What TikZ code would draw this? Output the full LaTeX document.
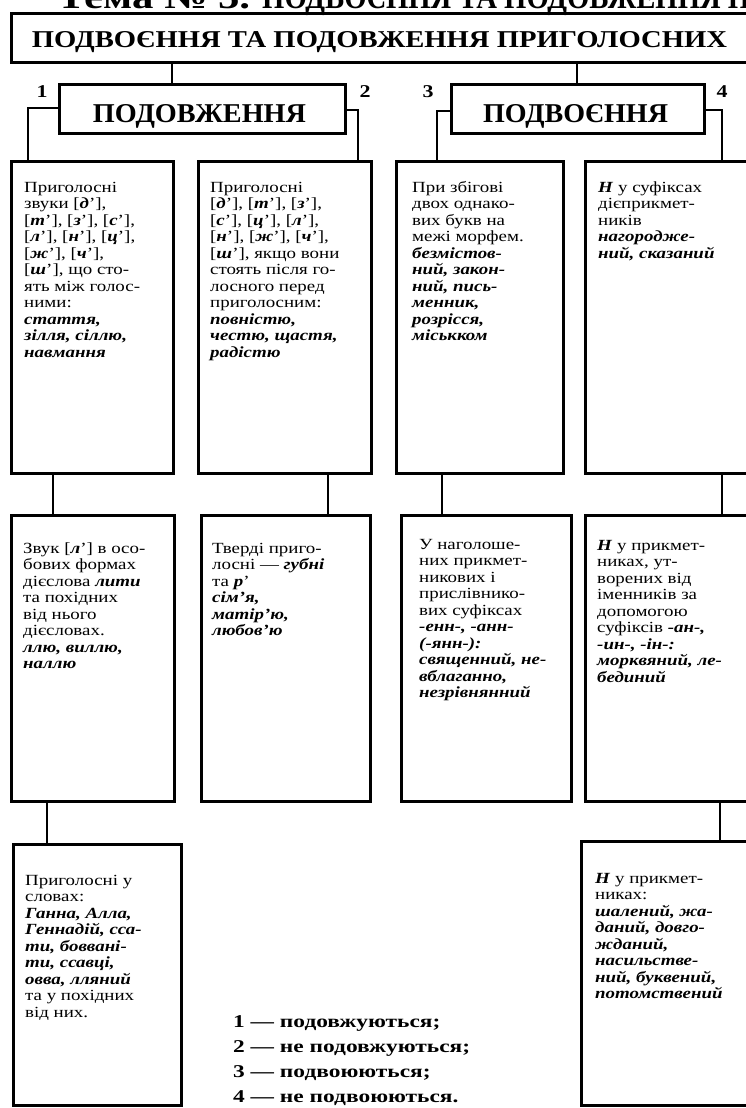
\documentclass[tikz,border=0pt]{standalone}
\usepackage{fontspec}
\usepackage{graphicx}
\setmainfont{Liberation Serif}[FakeStretch=1.22]
\newfontfamily\legendfont{Liberation Serif}[FakeStretch=1.3]
\usetikzlibrary{calc}

\tikzset{
  frame/.style={draw, line width=2.8pt, inner sep=0pt, anchor=north west},
  link/.style={draw, line width=2.8pt},
  body/.style={anchor=base west, inner sep=0pt},
  digit/.style={inner sep=0pt, font=\bfseries\fontsize{18}{18}\selectfont},
  heading/.style={anchor=base, inner sep=0pt},
}
\newcommand\ex[1]{\textbf{\textit{#1}}}
\newcommand\cell[1]{\parbox[t]{200pt}{\fontsize{15.5}{16.5}\selectfont #1}}
% sound in brackets, e.g. [д']
\newcommand\snd[1]{{[}\ex{#1}']}

\begin{document}
\begin{tikzpicture}[x=1pt,y=-1pt]
\useasboundingbox (0,0) rectangle (745,1108);
\fill[white] (0,0) rectangle (745,1108);

% running title, cut by the page edge
\node[anchor=base west, inner sep=0pt] (runhead) at (57,9)
  {\bfseries\resizebox{193pt}{22pt}{Тема № 5.}\hspace{12pt}%
   \resizebox{488pt}{22pt}{ПОДВОЄННЯ ТА ПОДОВЖЕННЯ П}};

% main heading
\node[frame, minimum width=760pt, minimum height=49pt] (main) at (10,12) {};
\node[heading] (maintext) at (379.5,48)
  {\resizebox{695pt}{16pt}{\bfseries ПОДВОЄННЯ ТА ПОДОВЖЕННЯ ПРИГОЛОСНИХ}};

% second-level headings
\node[frame, minimum width=286pt, minimum height=49pt] (s1) at (58,83) {};
\node[heading] (s1text) at (199.5,122)
  {\resizebox{213pt}{18pt}{\bfseries ПОДОВЖЕННЯ}};
\node[frame, minimum width=253pt, minimum height=49pt] (s2) at (450,83) {};
\node[heading] (s2text) at (575.5,122)
  {\resizebox{185pt}{18pt}{\bfseries ПОДВОЄННЯ}};

% first row of boxes
\node[frame, minimum width=162pt, minimum height=312pt] (r1a) at (10,160) {};
\node[frame, minimum width=173pt, minimum height=312pt] (r1b) at (197,160) {};
\node[frame, minimum width=167pt, minimum height=312pt] (r1c) at (395,160) {};
\node[frame, minimum width=180pt, minimum height=312pt] (r1d) at (584,160) {};

% second row
\node[frame, minimum width=163pt, minimum height=286pt] (r2a) at (10,514) {};
\node[frame, minimum width=169pt, minimum height=286pt] (r2b) at (200,514) {};
\node[frame, minimum width=170pt, minimum height=286pt] (r2c) at (400,514) {};
\node[frame, minimum width=180pt, minimum height=286pt] (r2d) at (584,514) {};

% third row
\node[frame, minimum width=168pt, minimum height=261pt] (r3a) at (12,843) {};
\node[frame, minimum width=184pt, minimum height=264pt] (r3d) at (580,840) {};

% connectors
\draw[link] ($(main.south west)+(162,0)$) -- ($(s1.north west)+(114,0)$);
\draw[link] ($(main.south west)+(567,0)$) -- ($(s2.north west)+(127,0)$);
\draw[link] ($(s1.north west)+(0,25)$) -| ($(r1a.north west)+(18,0)$);
\draw[link] ($(s1.north east)+(0,27)$) -| ($(r1b.north west)+(161,0)$);
\draw[link] ($(s2.north west)+(0,28)$) -| ($(r1c.north west)+(42,0)$);
\draw[link] ($(s2.north east)+(0,27)$) -| ($(r1d.north west)+(138,0)$);
\draw[link] ($(r1a.south west)+(43,0)$) -- ($(r2a.north west)+(43,0)$);
\draw[link] ($(r1b.south west)+(131,0)$) -- ($(r2b.north west)+(128,0)$);
\draw[link] ($(r1c.south west)+(47,0)$) -- ($(r2c.north west)+(42,0)$);
\draw[link] ($(r1d.south west)+(138,0)$) -- ($(r2d.north west)+(138,0)$);
\draw[link] ($(r2a.south west)+(37,0)$) -- ($(r3a.north west)+(35,0)$);
\draw[link] ($(r2d.south west)+(136,0)$) -- ($(r3d.north west)+(140,0)$);

% branch numbers
\node[digit] (n1) at (42,92) {1};
\node[digit] (n2) at (365,92) {2};
\node[digit] (n3) at (428,92) {3};
\node[digit] (n4) at (722,92) {4};

% box texts
\node[body] (t1) at (24,192) {\cell{Приголосні\\
звуки \snd{д},\\
\snd{т}, \snd{з}, \snd{с},\\
\snd{л}, \snd{н}, \snd{ц},\\
\snd{ж}, \snd{ч},\\
\snd{ш}, що сто-\\
ять між голос-\\
ними:\\
\ex{стаття,}\\
\ex{зілля, сіллю,}\\
\ex{навмання}}};

\node[body] (t2) at (210,192) {\cell{Приголосні\\
\snd{д}, \snd{т}, \snd{з},\\
\snd{с}, \snd{ц}, \snd{л},\\
\snd{н}, \snd{ж}, \snd{ч},\\
\snd{ш}, якщо вони\\
стоять після го-\\
лосного перед\\
приголосним:\\
\ex{повністю,}\\
\ex{честю, щастя,}\\
\ex{радістю}}};

\node[body] (t3) at (412,192) {\cell{При збігові\\
двох однако-\\
вих букв на\\
межі морфем.\\
\ex{безмістов-}\\
\ex{ний, закон-}\\
\ex{ний, пись-}\\
\ex{менник,}\\
\ex{розрісся,}\\
\ex{міськком}}};

\node[body] (t4) at (598,192) {\cell{\ex{Н} у суфіксах\\
дієприкмет-\\
ників\\
\ex{нагородже-}\\
\ex{ний, сказаний}}};

\node[body] (t5) at (23,553) {\cell{Звук \snd{л} в осо-\\
бових формах\\
дієслова \ex{лити}\\
та похідних\\
від нього\\
дієсловах.\\
\ex{ллю, виллю,}\\
\ex{наллю}}};

\node[body] (t6) at (212,553) {\cell{Тверді приго-\\
лосні — \ex{губні}\\
та \ex{р}'\\
\ex{сім'я,}\\
\ex{матір'ю,}\\
\ex{любов'ю}}};

\node[body] (t7) at (419,549) {\cell{У наголоше-\\
них прикмет-\\
никових і\\
прислівнико-\\
вих суфіксах\\
\ex{-енн-, -анн-}\\
\ex{(-янн-):}\\
\ex{священний, не-}\\
\ex{вблаганно,}\\
\ex{незрівнянний}}};

\node[body] (t8) at (597,550) {\cell{\ex{Н} у прикмет-\\
никах, ут-\\
ворених від\\
іменників за\\
допомогою\\
суфіксів \ex{-ан-,}\\
\ex{-ин-, -ін-:}\\
\ex{морквяний, ле-}\\
\ex{бединий}}};

\node[body] (t9) at (25,885) {\cell{Приголосні у\\
словах:\\
\ex{Ганна, Алла,}\\
\ex{Геннадій, сса-}\\
\ex{ти, боввані-}\\
\ex{ти, ссавці,}\\
\ex{овва, лляний}\\
та у похідних\\
від них.}};

\node[body] (t10) at (595,883) {\cell{\ex{Н} у прикмет-\\
никах:\\
\ex{шалений, жа-}\\
\ex{даний, довго-}\\
\ex{жданий,}\\
\ex{насильстве-}\\
\ex{ний, буквений,}\\
\ex{потомствений}}};

% legend
\node[body] (legend) at (233,1027) {\parbox[t]{320pt}{\legendfont\bfseries\fontsize{18}{25}\selectfont
1 — подовжуються;\\
2 — не подовжуються;\\
3 — подвоюються;\\
4 — не подвоюються.}};
\end{tikzpicture}
\end{document}
